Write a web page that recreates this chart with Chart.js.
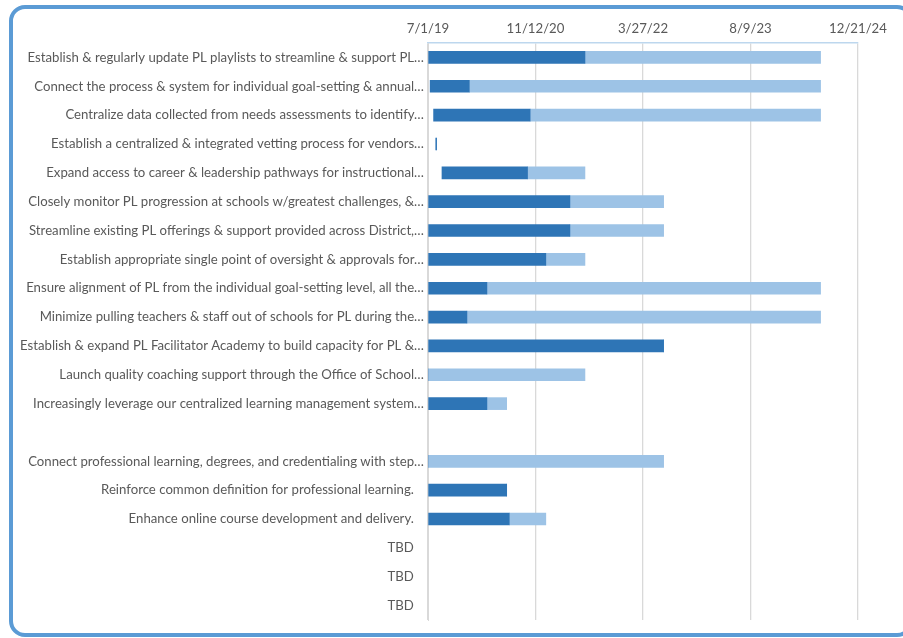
<!DOCTYPE html>
<html>
<head>
<meta charset="utf-8">
<script src="https://cdn.jsdelivr.net/npm/chart.js@4"></script>
<style>
  html, body { margin: 0; padding: 0; background: #fff; }
  #wrap { position: relative; width: 903px; height: 638px; overflow: hidden; }
  #frame {
    position: absolute; left: 9px; top: 5px; width: 896px; height: 624px;
    border: 4.5px solid #5b9bd5; border-radius: 16px; box-sizing: content-box;
  }
  canvas { position: absolute; left: 0; top: 0; }
</style>
</head>
<body>
<div id="wrap">
  <div id="frame"></div>
  <canvas id="gantt" width="903" height="638"></canvas>
</div>
<script>
// Gantt: days counted from 7/1/19
const tasks = [
  'Establish & regularly update PL playlists to streamline & support PL…',
  'Connect the process & system for individual goal-setting & annual…',
  'Centralize data collected from needs assessments to identify…',
  'Establish a centralized & integrated vetting process for vendors…',
  'Expand access to career & leadership pathways for instructional…',
  'Closely monitor PL progression at schools w/greatest challenges, &…',
  'Streamline existing PL offerings & support provided across District,…',
  'Establish appropriate single point of oversight & approvals for…',
  'Ensure alignment of PL from the individual goal-setting level, all the…',
  'Minimize pulling teachers & staff out of schools for PL during the…',
  'Establish & expand PL Facilitator Academy to build capacity for PL &…',
  'Launch quality coaching support through the Office of School…',
  'Increasingly leverage our centralized learning management system…',
  '',
  'Connect professional learning, degrees, and credentialing with step…',
  'Reinforce common definition for professional learning.   ',
  'Enhance online course development and delivery.   ',
  'TBD   ',
  'TBD   ',
  'TBD   '
];
const startDays     = [0, 10, 26, 36, 65, 0, 0, 0, 0, 0, 0, 0, 0, null, 0, 0, 0, null, null, null];
const completedDays = [730, 182, 449, 4, 398, 660, 660, 548, 274, 181, 1096, 0, 274, null, 0, 366, 378, null, null, null];
const remainingDays = [1096, 1634, 1351, 0, 267, 436, 436, 182, 1552, 1645, 0, 730, 92, null, 1096, 0, 170, null, null, null];

const tickDays = [0, 500, 1000, 1500, 2000];
const baseDate = Date.UTC(2019, 6, 1);

function fmtDay(d) {
  const dt = new Date(baseDate + d * 86400000);
  return (dt.getUTCMonth() + 1) + '/' + dt.getUTCDate() + '/' + String(dt.getUTCFullYear()).slice(2);
}

const labelFont = { family: 'Lato, "Open Sans", sans-serif', size: 13.2 };

new Chart(document.getElementById('gantt').getContext('2d'), {
  type: 'bar',
  data: {
    labels: tasks,
    datasets: [
      { label: 'Start', data: startDays, backgroundColor: 'rgba(0,0,0,0)', barThickness: 12 },
      { label: 'Completed', data: completedDays, backgroundColor: '#2e75b6', barThickness: 12 },
      { label: 'Remaining', data: remainingDays, backgroundColor: '#9dc3e6', barThickness: 12 }
    ]
  },
  options: {
    indexAxis: 'y',
    responsive: false,
    animation: false,
    layout: { padding: { left: 0, right: 45, top: 0, bottom: 18 } },
    plugins: { legend: { display: false }, tooltip: { enabled: false } },
    scales: {
      x: {
        position: 'top',
        stacked: true,
        min: 0,
        max: 2000,
        afterBuildTicks: (s) => { s.ticks = tickDays.map(v => ({ value: v })); },
        afterFit: (s) => { s.height = 43; },
        ticks: {
          callback: (v) => fmtDay(v),
          color: '#595959',
          font: labelFont,
          padding: 6,
          maxRotation: 0
        },
        grid: { color: '#d9d9d9', lineWidth: 1.3, drawTicks: false },
        border: { display: true, color: '#bdd7ee', width: 1.5 }
      },
      y: {
        stacked: true,
        afterFit: (s) => { s.width = 428; },
        ticks: { color: '#595959', font: labelFont, padding: -4, autoSkip: false },
        grid: { display: false },
        border: { display: true, color: '#d9d9d9', width: 1 }
      }
    }
  }
});
</script>
</body>
</html>
